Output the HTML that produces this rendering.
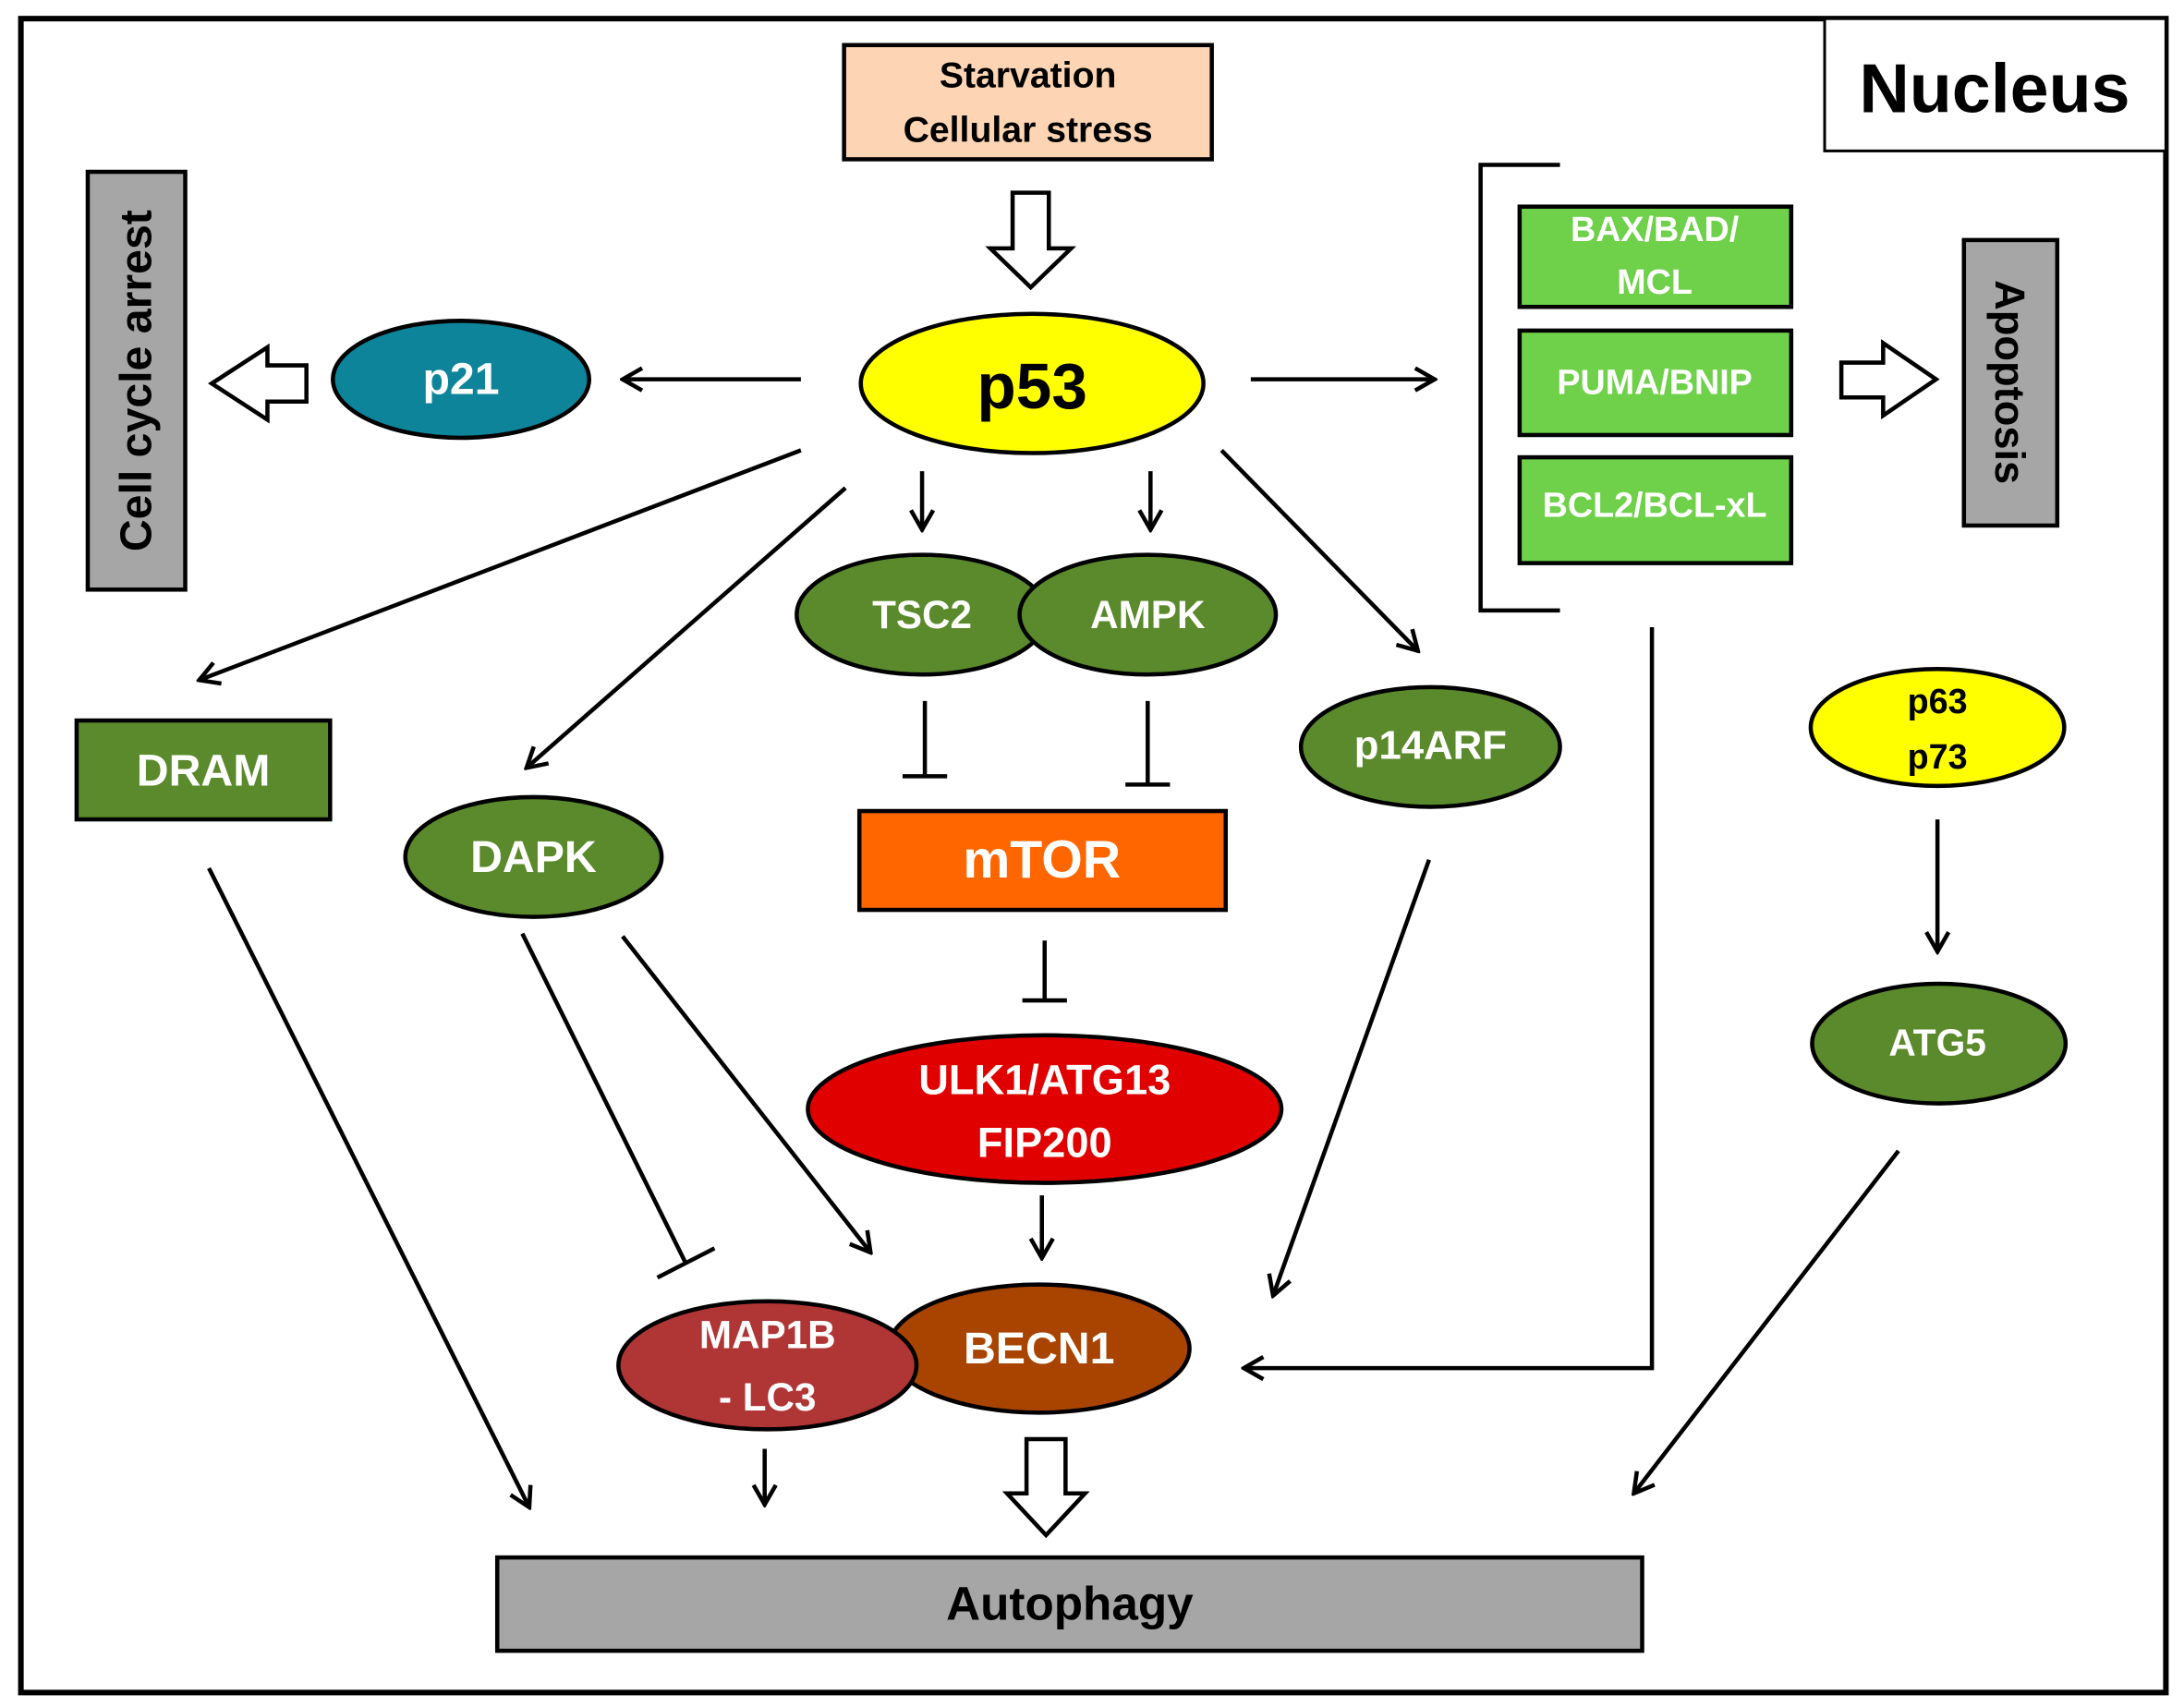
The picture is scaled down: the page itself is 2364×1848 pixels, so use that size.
<!DOCTYPE html>
<html><head><meta charset="utf-8"><style>
html,body{margin:0;padding:0;background:#fff;}
svg{display:block;}
text{font-family:"Liberation Sans",sans-serif;font-weight:bold;text-anchor:middle;dominant-baseline:central;}
</style></head><body>
<svg width="2364" height="1848" viewBox="0 0 1568 1225" xmlns="http://www.w3.org/2000/svg">
<defs>
<marker id="a" viewBox="0 0 20 20" refX="18" refY="10" markerWidth="20" markerHeight="20" markerUnits="userSpaceOnUse" orient="auto">
<polyline points="4,2 18,10 4,18" fill="none" stroke="#000" stroke-width="3"/>
</marker>
</defs>
<rect x="0" y="0" width="1568" height="1225" fill="#fff"/>
<rect x="15" y="13" width="1540" height="1202" fill="none" stroke="#000" stroke-width="4"/>
<rect x="1310" y="13" width="245" height="95" fill="#fff" stroke="#000" stroke-width="2"/>
<text x="1432" y="63" font-size="50" fill="#000">Nucleus</text>

<rect x="606" y="32" width="264" height="82" fill="#fdd5b4" stroke="#000" stroke-width="3"/>
<text x="738" y="54" font-size="26">Starvation</text>
<text x="738" y="93" font-size="26">Cellular stress</text>
<!-- hollow arrows -->
<polygon points="727,138 753,138 753,178 769,178 740,206 711,178 727,178" fill="#fff" stroke="#000" stroke-width="3"/>
<polygon points="220,262 192,262 192,249 152,275 192,301 192,288 220,288" fill="#fff" stroke="#000" stroke-width="3"/>
<polygon points="1322,260 1352,260 1352,246 1390,272 1352,298 1352,285 1322,285" fill="#fff" stroke="#000" stroke-width="3"/>
<polygon points="737,1033 765,1033 765,1072 779,1072 751,1102 723,1072 737,1072" fill="#fff" stroke="#000" stroke-width="3"/>

<ellipse cx="741" cy="275" rx="123" ry="50" fill="#ffff00" stroke="#000" stroke-width="3"/>
<text x="741" y="277" font-size="46">p53</text>
<ellipse cx="331" cy="272" rx="92" ry="42" fill="#0e849a" stroke="#000" stroke-width="3"/>
<text x="331" y="272" font-size="32" fill="#fff">p21</text>

<rect x="63" y="123" width="70" height="300" fill="#a6a6a6" stroke="#000" stroke-width="3"/>
<text x="98" y="273" font-size="32" transform="rotate(-90 98 273)">Cell cycle arrest</text>
<rect x="1410" y="172" width="67" height="205" fill="#a6a6a6" stroke="#000" stroke-width="3"/>
<text x="1443" y="274" font-size="30" transform="rotate(90 1443 274)">Apoptosis</text>

<g stroke="#000" stroke-width="3" fill="none">
<line x1="575" y1="272" x2="447" y2="272" marker-end="url(#a)"/>
<line x1="898" y1="272" x2="1030" y2="272" marker-end="url(#a)"/>
<polyline points="1120,118 1063,118 1063,438 1120,438"/>
<polyline points="1186,450 1186,982 893,982" marker-end="url(#a)"/>
<line x1="662" y1="338" x2="662" y2="380" marker-end="url(#a)"/>
<line x1="826" y1="338" x2="826" y2="380" marker-end="url(#a)"/>
<line x1="575" y1="323" x2="143" y2="488" marker-end="url(#a)"/>
<line x1="607" y1="350" x2="378" y2="551" marker-end="url(#a)"/>
<line x1="877" y1="323" x2="1018" y2="467" marker-end="url(#a)"/>
<line x1="664" y1="503" x2="664" y2="557"/><line x1="648" y1="557" x2="680" y2="557"/>
<line x1="824" y1="503" x2="824" y2="563"/><line x1="808" y1="563" x2="840" y2="563"/>
<line x1="750" y1="675" x2="750" y2="718"/><line x1="734" y1="718" x2="766" y2="718"/>
<line x1="748" y1="858" x2="748" y2="903" marker-end="url(#a)"/>
<line x1="1391" y1="588" x2="1391" y2="683" marker-end="url(#a)"/>
<line x1="1363" y1="826" x2="1173" y2="1072" marker-end="url(#a)"/>
<line x1="150" y1="623" x2="380" y2="1082" marker-end="url(#a)"/>
<line x1="375" y1="670" x2="492" y2="906"/><line x1="472" y1="917" x2="513" y2="896"/>
<line x1="447" y1="672" x2="625" y2="899" marker-end="url(#a)"/>
<line x1="1026" y1="617" x2="914" y2="930" marker-end="url(#a)"/>
<line x1="549" y1="1040" x2="549" y2="1080" marker-end="url(#a)"/>
</g>

<rect x="1091" y="148" width="195" height="72" fill="#6fd04a" stroke="#000" stroke-width="3"/>
<text x="1188" y="164" font-size="25" fill="#fff">BAX/BAD/</text>
<text x="1188" y="202" font-size="25" fill="#fff">MCL</text>
<rect x="1091" y="237" width="195" height="75" fill="#6fd04a" stroke="#000" stroke-width="3"/>
<text x="1188" y="274" font-size="25" fill="#fff">PUMA/BNIP</text>
<rect x="1091" y="328" width="195" height="76" fill="#6fd04a" stroke="#000" stroke-width="3"/>
<text x="1188" y="362" font-size="25" fill="#fff">BCL2/BCL-xL</text>

<ellipse cx="662" cy="441" rx="90" ry="43" fill="#5a8a2b" stroke="#000" stroke-width="3"/>
<text x="662" y="441" font-size="28" fill="#fff">TSC2</text>
<ellipse cx="824" cy="441" rx="92" ry="43" fill="#5a8a2b" stroke="#000" stroke-width="3"/>
<text x="824" y="441" font-size="28" fill="#fff">AMPK</text>

<rect x="617" y="582" width="263" height="71" fill="#ff6600" stroke="#000" stroke-width="3"/>
<text x="748" y="617" font-size="38" fill="#fff">mTOR</text>
<ellipse cx="750" cy="796" rx="170" ry="53" fill="#e00000" stroke="#000" stroke-width="3"/>
<text x="750" y="775" font-size="30" fill="#fff">ULK1/ATG13</text>
<text x="750" y="820" font-size="30" fill="#fff">FIP200</text>

<rect x="55" y="517" width="182" height="71" fill="#5a8a2b" stroke="#000" stroke-width="3"/>
<text x="146" y="553" font-size="32" fill="#fff">DRAM</text>
<ellipse cx="383" cy="615" rx="92" ry="43" fill="#5a8a2b" stroke="#000" stroke-width="3"/>
<text x="383" y="615" font-size="32" fill="#fff">DAPK</text>
<ellipse cx="1027" cy="536" rx="93" ry="43" fill="#5a8a2b" stroke="#000" stroke-width="3"/>
<text x="1027" y="535" font-size="29" fill="#fff">p14ARF</text>
<ellipse cx="1391" cy="522" rx="91" ry="42" fill="#ffff00" stroke="#000" stroke-width="3"/>
<text x="1391" y="503" font-size="25">p63</text>
<text x="1391" y="543" font-size="25">p73</text>
<ellipse cx="1392" cy="749" rx="91" ry="43" fill="#5a8a2b" stroke="#000" stroke-width="3"/>
<text x="1391" y="748" font-size="27" fill="#fff">ATG5</text>

<ellipse cx="746" cy="968" rx="108" ry="46" fill="#a94400" stroke="#000" stroke-width="3"/>
<text x="746" y="968" font-size="32" fill="#fff">BECN1</text>
<ellipse cx="551" cy="980" rx="107" ry="46" fill="#b03535" stroke="#000" stroke-width="3"/>
<text x="551" y="958" font-size="28" fill="#fff">MAP1B</text>
<text x="551" y="1003" font-size="28" fill="#fff">- LC3</text>

<rect x="357" y="1118" width="822" height="67" fill="#a6a6a6" stroke="#000" stroke-width="3"/>
<text x="768" y="1151" font-size="34">Autophagy</text>
</svg>
</body></html>
